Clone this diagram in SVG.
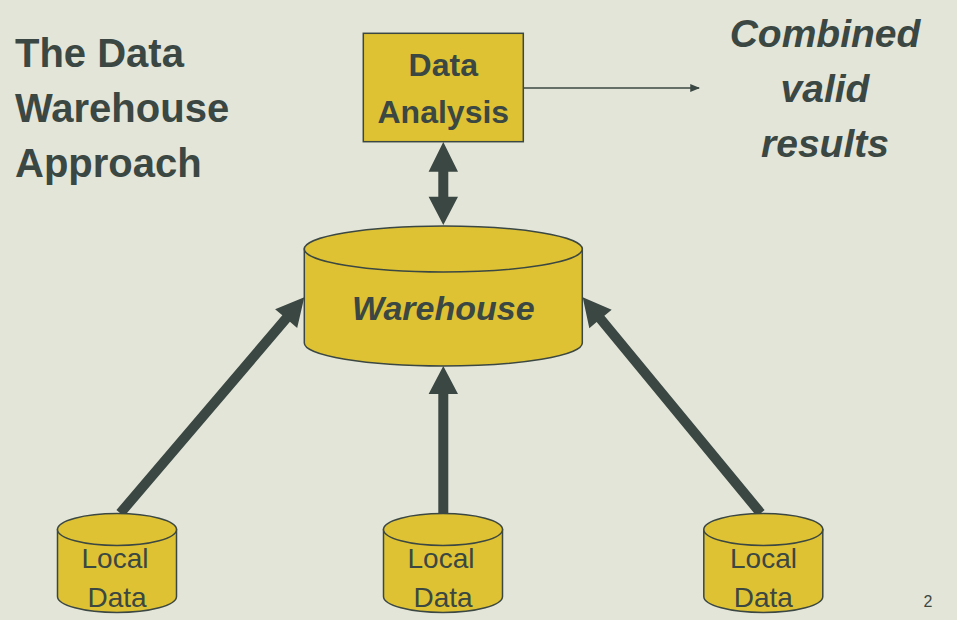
<svg xmlns="http://www.w3.org/2000/svg" width="957" height="620" viewBox="0 0 957 620">
  <style>
    .bg { fill: #E3E5D9; }
    .shape { fill: #DEC234; stroke: #3B4742; stroke-width: 1.5; }
    .txt { fill: #3B4742; font-family: "Liberation Sans", Arial, sans-serif; }
    .b { font-weight: bold; }
    .bi { font-weight: bold; font-style: italic; }
    .thick { fill: #3B4742; stroke: none; }
    .thin { stroke: #3B4742; stroke-width: 1.5; fill: none; }
  </style>
  <defs>
    <marker id="arrowSmall" viewBox="0 0 10 10" refX="9" refY="5" markerWidth="6.5" markerHeight="6.5" markerUnits="strokeWidth" orient="auto">
      <path d="M0,1 L10,5 L0,9 Z" fill="#3B4742"/>
    </marker>
  </defs>
  <rect class="bg" x="0" y="0" width="957" height="620"/>

  <g id="title">
    <text class="txt b" font-size="40" x="15" y="67">The Data</text>
    <text class="txt b" font-size="40" x="15" y="122">Warehouse</text>
    <text class="txt b" font-size="40" x="15" y="177">Approach</text>
  </g>

  <g id="results">
    <text class="txt bi" font-size="39" text-anchor="middle" x="825" y="47">Combined</text>
    <text class="txt bi" font-size="39" text-anchor="middle" x="825" y="102">valid</text>
    <text class="txt bi" font-size="39" text-anchor="middle" x="825" y="157">results</text>
  </g>

  <g id="connectors">
    <line class="thin" x1="523.5" y1="88" x2="699" y2="88" marker-end="url(#arrowSmall)"/>
    <path class="thick" d="M443.3,142 L458,171.7 L448.3,171.7 L448.3,196.7 L458,196.7 L443.3,225 L428.6,196.7 L438.3,196.7 L438.3,171.7 L428.6,171.7 Z"/>
    <path class="thick" transform="translate(304.3,297.3) rotate(40.45)" d="M0,0 L14.5,28 L5,28 L5,283.7 L-5,283.7 L-5,28 L-14.5,28 Z"/>
    <path class="thick" d="M443.3,366 L458,394 L448.3,394 L448.3,513 L438.3,513 L438.3,394 L428.6,394 Z"/>
    <path class="thick" transform="translate(582.7,297.3) rotate(-39.5)" d="M0,0 L14.5,28 L5,28 L5,279.9 L-5,279.9 L-5,28 L-14.5,28 Z"/>
  </g>

  <g id="data-analysis">
    <rect class="shape" x="363.3" y="33.3" width="160" height="108.4"/>
    <text class="txt b" font-size="32" text-anchor="middle" x="443.3" y="76">Data</text>
    <text class="txt b" font-size="32" text-anchor="middle" x="443.3" y="123">Analysis</text>
  </g>

  <g id="warehouse">
    <path class="shape" d="M304.3,249 V343 A139,23 0 0 0 582.3,343 V249 Z"/>
    <ellipse class="shape" cx="443.3" cy="249" rx="139" ry="23"/>
    <text class="txt bi" font-size="34" text-anchor="middle" x="443.3" y="320">Warehouse</text>
  </g>

  <g id="local-data-1">
    <path class="shape" d="M57.5,529.5 V596.5 A59.5,16 0 0 0 176.5,596.5 V529.5 Z"/>
    <ellipse class="shape" cx="117" cy="529.5" rx="59.5" ry="16"/>
    <text class="txt" font-size="28" text-anchor="middle" x="115" y="568">Local</text>
    <text class="txt" font-size="28" text-anchor="middle" x="117" y="607">Data</text>
  </g>

  <g id="local-data-2">
    <path class="shape" d="M383.5,529.5 V596.5 A59.5,16 0 0 0 502.5,596.5 V529.5 Z"/>
    <ellipse class="shape" cx="443" cy="529.5" rx="59.5" ry="16"/>
    <text class="txt" font-size="28" text-anchor="middle" x="441" y="568">Local</text>
    <text class="txt" font-size="28" text-anchor="middle" x="443" y="607">Data</text>
  </g>

  <g id="local-data-3">
    <path class="shape" d="M703.8,529.5 V596.5 A59.5,16 0 0 0 822.8,596.5 V529.5 Z"/>
    <ellipse class="shape" cx="763.3" cy="529.5" rx="59.5" ry="16"/>
    <text class="txt" font-size="28" text-anchor="middle" x="763.5" y="568">Local</text>
    <text class="txt" font-size="28" text-anchor="middle" x="763.3" y="607">Data</text>
  </g>

  <g id="page-number">
    <text class="txt" font-size="16" text-anchor="middle" x="928" y="607">2</text>
  </g>
</svg>
